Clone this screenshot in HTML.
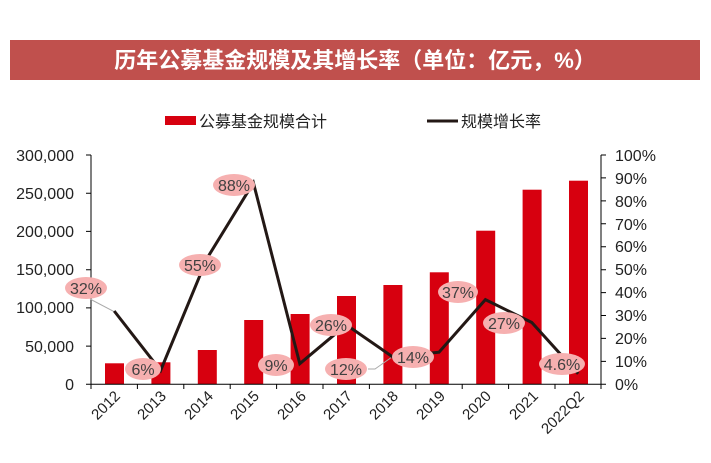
<!DOCTYPE html>
<html><head><meta charset="utf-8"><style>
body{margin:0;background:#fff;width:711px;height:458px;overflow:hidden}
svg text{font-family:"Liberation Sans","Noto Sans CJK SC",sans-serif}
</style></head><body>
<svg width="711" height="458" xmlns="http://www.w3.org/2000/svg">
<rect x="10" y="40" width="690" height="40" fill="#c0504d"/>
<text x="355" y="68" text-anchor="middle" font-size="22" font-weight="bold" fill="#fff">历年公募基金规模及其增长率（单位：亿元，%）</text>
<rect x="165" y="116" width="31" height="9" fill="#d7000f"/>
<text x="199" y="127" font-size="16" fill="#222">公募基金规模合计</text>
<line x1="427" y1="121" x2="458" y2="121" stroke="#231815" stroke-width="3"/>
<text x="461" y="127" font-size="16" fill="#222">规模增长率</text>
<g fill="#d7000f">
<rect x="105" y="363.3" width="19" height="21"/>
<rect x="151.4" y="362.3" width="19" height="22"/>
<rect x="197.8" y="350" width="19" height="34.3"/>
<rect x="244.2" y="320" width="19" height="64.3"/>
<rect x="290.6" y="314" width="19" height="70.3"/>
<rect x="337" y="296" width="19" height="88.3"/>
<rect x="383.4" y="285" width="19" height="99.3"/>
<rect x="429.8" y="272.3" width="19" height="112"/>
<rect x="476.2" y="230.7" width="19" height="153.6"/>
<rect x="522.6" y="189.7" width="19" height="194.6"/>
<rect x="569" y="180.7" width="19" height="203.6"/>
</g>
<g stroke="#000" stroke-width="1" fill="none">
<line x1="91" y1="155" x2="91" y2="384.3"/>
<line x1="601" y1="155" x2="601" y2="384.3"/>
<line x1="91" y1="384.3" x2="601" y2="384.3"/>
<path d="M86 155h5M86 193.2h5M86 231.4h5M86 269.7h5M86 307.9h5M86 346.1h5M86 384.3h5"/>
<path d="M601 155h5M601 177.9h5M601 200.9h5M601 223.8h5M601 246.7h5M601 269.7h5M601 292.6h5M601 315.5h5M601 338.4h5M601 361.4h5M601 384.3h5"/>
<path d="M91 384v5M137.4 384v5M183.8 384v5M230.2 384v5M276.6 384v5M323 384v5M369.4 384v5M415.8 384v5M462.2 384v5M508.6 384v5M555 384v5M601 384v5"/>
</g>
<g font-size="16" fill="#222" text-anchor="end">
<text x="74" y="161">300,000</text><text x="74" y="199">250,000</text><text x="74" y="237">200,000</text>
<text x="74" y="275">150,000</text><text x="74" y="313">100,000</text><text x="74" y="352">50,000</text><text x="74" y="390">0</text>
</g>
<g font-size="16" fill="#222">
<text x="615" y="161">100%</text><text x="615" y="184">90%</text><text x="615" y="207">80%</text><text x="615" y="230">70%</text>
<text x="615" y="252">60%</text><text x="615" y="275">50%</text><text x="615" y="298">40%</text><text x="615" y="321">30%</text>
<text x="615" y="344">20%</text><text x="615" y="367">10%</text><text x="615" y="390">0%</text>
</g>
<g font-size="15" fill="#222" text-anchor="end">
<text transform="translate(121,397) rotate(-45)">2012</text>
<text transform="translate(167,397) rotate(-45)">2013</text>
<text transform="translate(214,397) rotate(-45)">2014</text>
<text transform="translate(260,397) rotate(-45)">2015</text>
<text transform="translate(307,397) rotate(-45)">2016</text>
<text transform="translate(353,397) rotate(-45)">2017</text>
<text transform="translate(399,397) rotate(-45)">2018</text>
<text transform="translate(446,397) rotate(-45)">2019</text>
<text transform="translate(492,397) rotate(-45)">2020</text>
<text transform="translate(539,397) rotate(-45)">2021</text>
<text transform="translate(585,397) rotate(-45)">2022Q2</text>
</g>
<path d="M90 299 L114.2 311.7" stroke="#aaa" fill="none"/>
<path d="M368 369 L375 369 L392 357" stroke="#aaa" fill="none"/>
<polyline fill="none" stroke="#231815" stroke-width="3" points="114.2,311 160.6,370.5 207,258.4 253.4,182.8 299.8,363.7 346.2,324.8 392.6,356.8 439,352.2 485.4,299.6 531.8,322.5 578.2,373.8"/>
<g fill="#f6b0b0">
<ellipse cx="86" cy="288" rx="21" ry="11"/><ellipse cx="143" cy="369" rx="18" ry="11"/>
<ellipse cx="200" cy="265" rx="21" ry="11"/><ellipse cx="234" cy="185" rx="21" ry="11"/>
<ellipse cx="276" cy="365" rx="18" ry="11"/><ellipse cx="331" cy="325" rx="21" ry="11"/>
<ellipse cx="346" cy="369" rx="21" ry="11"/><ellipse cx="413" cy="357" rx="21" ry="11"/>
<ellipse cx="458" cy="292" rx="20" ry="11"/><ellipse cx="504" cy="323" rx="21" ry="11"/>
<ellipse cx="562" cy="364" rx="23" ry="11"/>
</g>
<g font-size="16" fill="#404040" text-anchor="middle">
<text x="86" y="294">32%</text><text x="143" y="375">6%</text><text x="200" y="271">55%</text>
<text x="234" y="191">88%</text><text x="276" y="371">9%</text><text x="331" y="331">26%</text>
<text x="346" y="375">12%</text><text x="413" y="363">14%</text><text x="458" y="298">37%</text>
<text x="504" y="329">27%</text><text x="562" y="370">4.6%</text>
</g>
</svg>
</body></html>
